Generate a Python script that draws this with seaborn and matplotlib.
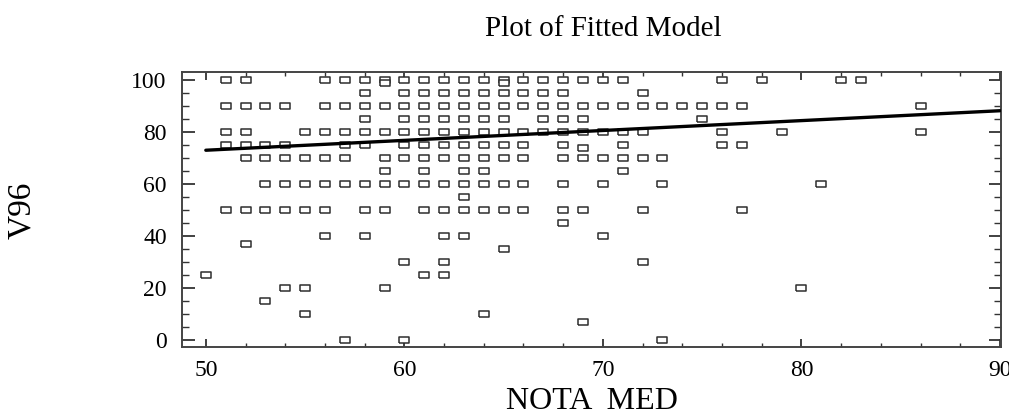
import numpy as np
import pandas as pd
import matplotlib
matplotlib.use("Agg")
import matplotlib.pyplot as plt
from matplotlib.ticker import MultipleLocator
import seaborn as sns

# NOTA MED values for each V96 level
v100 = [51, 52, 56, 57, 58, 59, 60, 61, 62, 63, 64, 65, 66, 67, 68, 69, 70, 71, 76, 78, 82, 83]
v99 = [59, 65]
v95 = [58, 60, 61, 62, 63, 64, 65, 66, 67, 68, 72]
v90 = [51, 52, 53, 54] + list(range(56, 78)) + [86]
v85 = [58, 60, 61, 62, 63, 64, 65, 67, 68, 69, 75]
v80 = [51, 52] + list(range(55, 73)) + [76, 79, 86]
v75 = [51, 52, 53, 54, 57, 58, 60, 61, 62, 63, 64, 65, 66, 68, 71, 76, 77]
v74 = [69]
v70 = [52, 53, 54, 55, 56, 57, 59, 60, 61, 62, 63, 64, 65, 66, 68, 69, 70, 71, 72, 73]
v65 = [59, 61, 63, 64, 71]
v60 = list(range(53, 67)) + [68, 70, 73, 81]
v55 = [63]
v50 = [51, 52, 53, 54, 55, 56, 58, 59, 61, 62, 63, 64, 65, 66, 68, 69, 72, 77]
v45 = [68]
v40 = [56, 58, 62, 63, 70]
v37 = [52]
v35 = [65]
v30 = [60, 62, 72]
v25 = [50, 61, 62]
v20 = [54, 55, 59, 80]
v15 = [53]
v10 = [55, 64]
v7 = [69]
v0 = [57, 60, 73]

levels = {100: v100, 99: v99, 95: v95, 90: v90, 85: v85, 80: v80, 75: v75,
          74: v74, 70: v70, 65: v65, 60: v60, 55: v55, 50: v50, 45: v45,
          40: v40, 37: v37, 35: v35, 30: v30, 25: v25, 20: v20, 15: v15,
          10: v10, 7: v7, 0: v0}

rows = []
for yv, xs in levels.items():
    for xv in xs:
        rows.append((xv, yv))
df = pd.DataFrame(rows, columns=["NOTA MED", "V96"])

# fitted line end points
fit_x = [50, 90]
fit_y = [73.0, 88.2]

sns.set_style("ticks")
plt.rcParams["font.family"] = ["Liberation Serif", "DejaVu Serif"]
plt.rcParams["text.color"] = "black"
plt.rcParams["axes.labelcolor"] = "black"

fig = plt.figure(figsize=(10.09, 4.19), dpi=100)
ax = fig.add_axes([182 / 1009, 1 - 347 / 419, (1001 - 182) / 1009, (347 - 72) / 419])

rect = [(-1, -0.58), (1, -0.58), (1, 0.58), (-1, 0.58), (-1, -0.58)]
sns.scatterplot(data=df, x="NOTA MED", y="V96", marker=rect, s=55,
                facecolor="white", edgecolor="#2e2e2e", linewidth=1.1, ax=ax, zorder=2)
sns.lineplot(x=fit_x, y=fit_y, color="black", linewidth=2.4, ax=ax, zorder=3)

ax.set_xlim(48.8, 90.05)
ax.set_ylim(-2.7, 103.1)
ax.xaxis.set_major_locator(MultipleLocator(10))
ax.xaxis.set_minor_locator(MultipleLocator(2))
ax.yaxis.set_major_locator(MultipleLocator(20))
ax.yaxis.set_minor_locator(MultipleLocator(5))
ax.tick_params(axis="both", which="both", direction="in", top=True, right=True,
               color="#333333", labelsize=17, labelcolor="black")
ax.tick_params(axis="x", which="major", length=6, width=1.3, pad=9)
ax.tick_params(axis="x", which="minor", length=3, width=1.0)
ax.tick_params(axis="y", which="major", length=9, width=1.3, pad=11)
ax.tick_params(axis="y", which="minor", length=5, width=1.0)
for s in ax.spines.values():
    s.set_color("#444444")
    s.set_linewidth(1.4)

ax.set_xlabel("NOTA  MED", fontsize=23, labelpad=5)
ax.set_ylabel("")
fig.text(22 / 1009, 1 - 210 / 419, "V96", rotation=90, fontsize=24,
         ha="center", va="center")
fig.text(603 / 1009, 1 - 29 / 419, "Plot of Fitted Model", fontsize=21,
         ha="center", va="center")

fig.savefig("out.png", dpi=100)
